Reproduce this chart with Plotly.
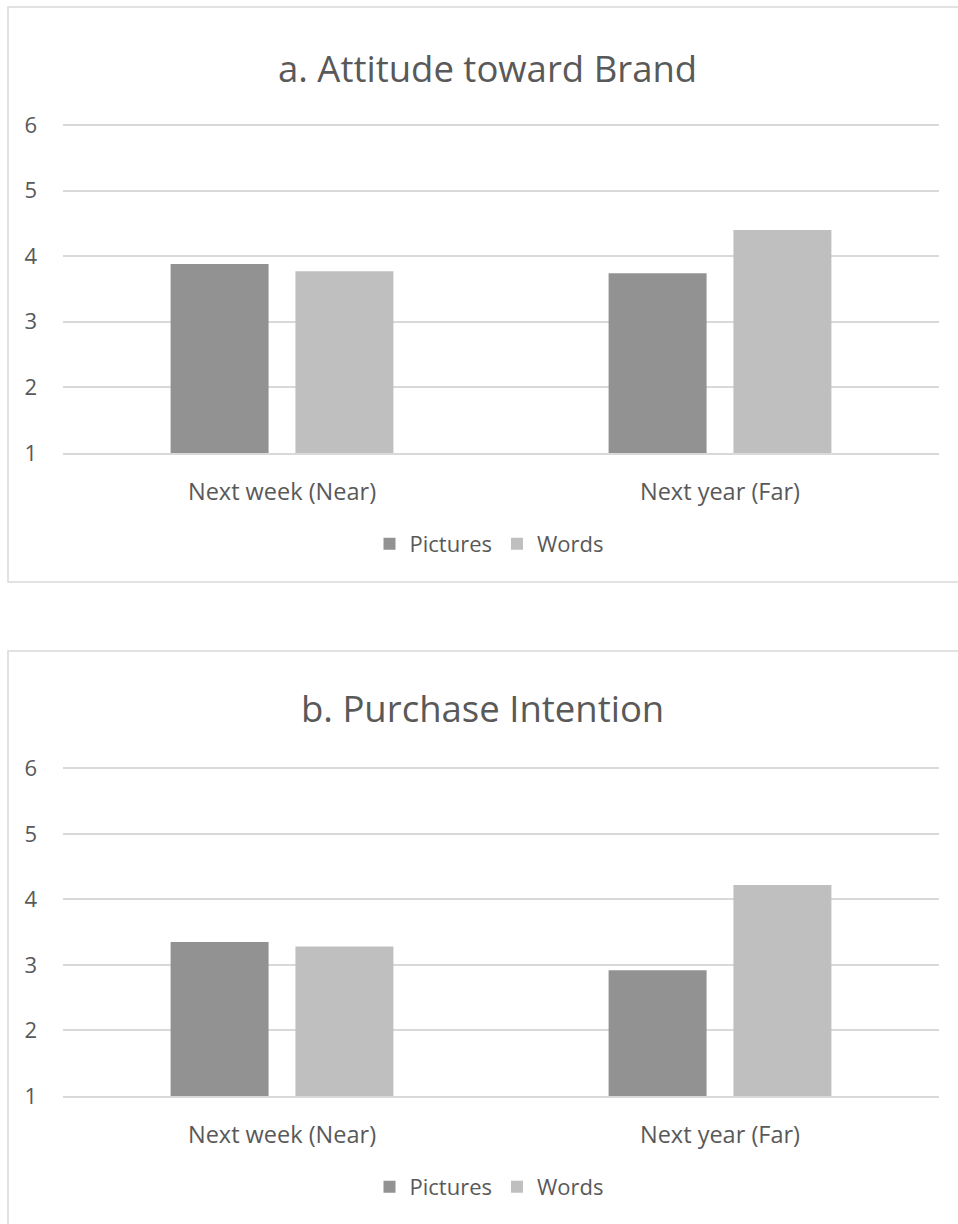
import plotly.graph_objects as go

categories = ["Next week (Near)", "Next year (Far)"]
series_names = ["Pictures", "Words"]
attitude_pictures = [3.88, 3.74]
attitude_words = [3.77, 4.40]
intention_pictures = [3.35, 2.92]
intention_words = [3.28, 4.22]
y_ticks = [1, 2, 3, 4, 5, 6]
titles = ["a. Attitude toward Brand", "b. Purchase Intention"]

colors = {"Pictures": "#929292", "Words": "#bfbfbf"}
FONT = "Open Sans"
TXT = "#595959"
GRID = "#d9d9d9"
W, H = 958, 1224
UNIT = 65.6
PAD = 0.04  # small top range padding so the top gridline is drawn

def px(x):
    return x / W

def py(y):
    return 1 - y / H

fig = go.Figure()
data = [(attitude_pictures, attitude_words), (intention_pictures, intention_words)]
for i, (pics, words) in enumerate(data):
    ax = "" if i == 0 else "2"
    leg = "legend" if i == 0 else "legend2"
    for name, vals in zip(series_names, (pics, words)):
        fig.add_trace(go.Bar(
            x=categories, y=vals, name=name,
            marker=dict(color=colors[name], line=dict(width=0)),
            xaxis="x" + ax, yaxis="y" + ax, legend=leg,
            hoverinfo="x+y+name",
        ))

axis_common_x = dict(showgrid=False, zeroline=False, showline=True, linecolor=GRID,
                     linewidth=1.5, ticks="",
                     tickfont=dict(family=FONT, size=23.5, color=TXT),
                     ticklabelstandoff=17, fixedrange=True, automargin=False)
axis_common_y = dict(range=[1, 6 + PAD], tickvals=y_ticks, showgrid=True, gridcolor=GRID,
                     gridwidth=1.5, zeroline=False, showline=False, ticks="",
                     tickfont=dict(family=FONT, size=22, color=TXT),
                     ticklabelstandoff=25, fixedrange=True, automargin=False)

pad_px = PAD * UNIT
x_dom = [px(63), px(939)]
fig.update_layout(
    width=W, height=H,
    margin=dict(l=0, r=0, t=0, b=0, autoexpand=False),
    paper_bgcolor="white", plot_bgcolor="white",
    barmode="group", bargap=0.43, bargroupgap=0.215,
    font=dict(family=FONT, color=TXT),
    xaxis=dict(domain=x_dom, anchor="y", **axis_common_x),
    yaxis=dict(domain=[py(453), py(125 - pad_px)], anchor="x", **axis_common_y),
    xaxis2=dict(domain=x_dom, anchor="y2", **axis_common_x),
    yaxis2=dict(domain=[py(1096), py(768.3 - pad_px)], anchor="x2", **axis_common_y),
    legend=dict(orientation="h", x=px(489), xanchor="center", y=py(544), yanchor="middle",
                font=dict(family=FONT, size=22, color=TXT), itemwidth=30,
                bgcolor="rgba(0,0,0,0)"),
    legend2=dict(orientation="h", x=px(489), xanchor="center", y=py(1187), yanchor="middle",
                 font=dict(family=FONT, size=22, color=TXT), itemwidth=30,
                 bgcolor="rgba(0,0,0,0)"),
    annotations=[
        dict(text=titles[0], x=px(487), y=py(68), xref="paper", yref="paper",
             xanchor="center", yanchor="middle",
             showarrow=False, font=dict(family=FONT, size=36.5, color=TXT)),
        dict(text=titles[1], x=px(482), y=py(708), xref="paper", yref="paper",
             xanchor="center", yanchor="middle",
             showarrow=False, font=dict(family=FONT, size=36.5, color=TXT)),
    ],
    shapes=[
        dict(type="path", xref="paper", yref="paper", line=dict(color=GRID, width=1.5),
             path=f"M 1.01 {py(7)} L {px(8)} {py(7)} L {px(8)} {py(582)} L 1.01 {py(582)}"),
        dict(type="path", xref="paper", yref="paper", line=dict(color=GRID, width=1.5),
             path=f"M 1.01 {py(651)} L {px(8)} {py(651)} L {px(8)} -0.01"),
    ],
)

fig.write_html("out.html")
